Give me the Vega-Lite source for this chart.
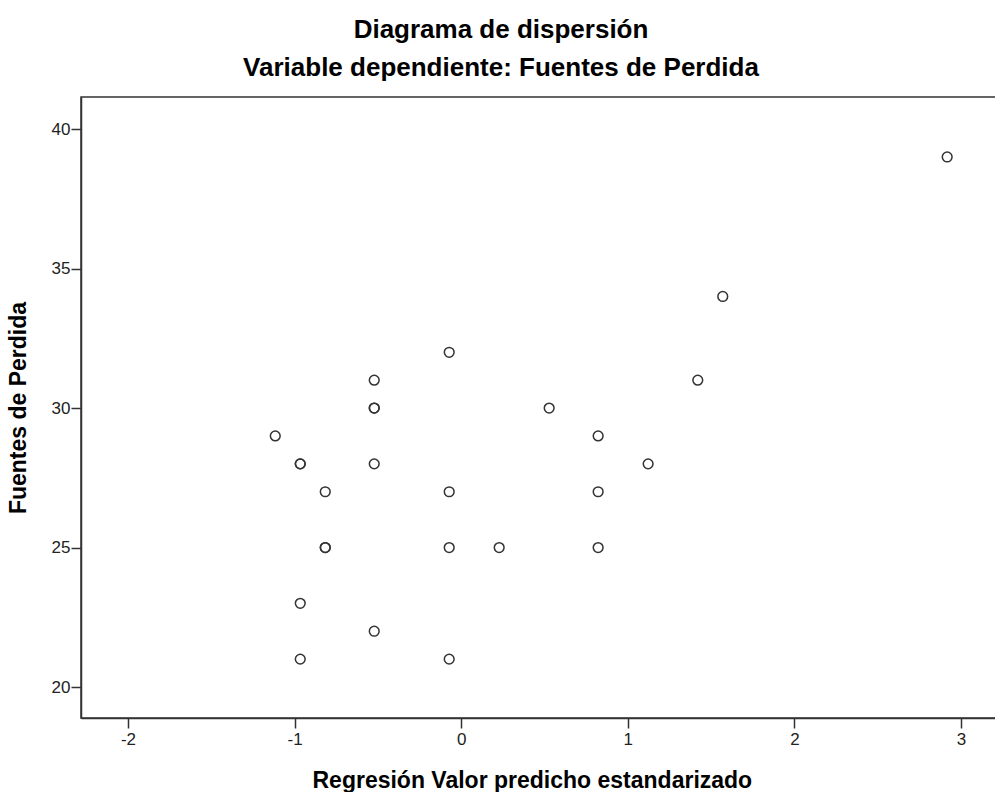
{
  "$schema": "https://vega.github.io/schema/vega-lite/v6.json",
  "autosize": "none",
  "width": 916,
  "height": 621,
  "padding": {"left": 81, "top": 97, "right": 0, "bottom": 74},
  "background": "white",
  "config": {
    "font": "Liberation Sans",
    "view": {"stroke": "#333333", "strokeWidth": 1.5},
    "axis": {"grid": false, "domainColor": "#333333", "domainWidth": 1.5, "tickColor": "#333333", "tickWidth": 1.5, "tickSize": 10, "labelFont": "Liberation Sans", "labelFontSize": 17, "labelColor": "#222222", "titleFont": "Liberation Sans", "titleFontSize": 23, "titleFontWeight": "bold", "titleColor": "#000000"}
  },
  "title": {
    "text": "Diagrama de dispersión",
    "subtitle": "Variable dependiente: Fuentes de Perdida",
    "anchor": "middle",
    "font": "Liberation Sans",
    "fontSize": 26,
    "fontWeight": "bold",
    "color": "#000000",
    "subtitleFont": "Liberation Sans",
    "subtitleFontSize": 26,
    "subtitleFontWeight": "bold",
    "subtitleColor": "#000000",
    "subtitlePadding": 12,
    "offset": 16,
    "dx": -38
  },
  "data": {
    "values": [
      {"pred": -1.116, "fuentes": 29},
      {"pred": -0.966, "fuentes": 28},
      {"pred": -0.966, "fuentes": 28},
      {"pred": -0.816, "fuentes": 27},
      {"pred": -0.816, "fuentes": 25},
      {"pred": -0.816, "fuentes": 25},
      {"pred": -0.966, "fuentes": 23},
      {"pred": -0.966, "fuentes": 21},
      {"pred": -0.522, "fuentes": 31},
      {"pred": -0.522, "fuentes": 30},
      {"pred": -0.522, "fuentes": 30},
      {"pred": -0.522, "fuentes": 28},
      {"pred": -0.522, "fuentes": 22},
      {"pred": -0.072, "fuentes": 32},
      {"pred": -0.072, "fuentes": 27},
      {"pred": -0.072, "fuentes": 25},
      {"pred": -0.072, "fuentes": 21},
      {"pred": 0.228, "fuentes": 25},
      {"pred": 0.528, "fuentes": 30},
      {"pred": 0.822, "fuentes": 29},
      {"pred": 0.822, "fuentes": 27},
      {"pred": 0.822, "fuentes": 25},
      {"pred": 1.122, "fuentes": 28},
      {"pred": 1.42, "fuentes": 31},
      {"pred": 1.57, "fuentes": 34},
      {"pred": 2.917, "fuentes": 39}
    ]
  },
  "mark": {"type": "point", "shape": "circle", "filled": false, "stroke": "#333333", "strokeWidth": 1.5, "size": 95, "opacity": 1},
  "encoding": {
    "x": {
      "field": "pred", "type": "quantitative",
      "scale": {"domain": [-2.282, 3.216], "nice": false, "zero": false},
      "axis": {"values": [-2, -1, 0, 1, 2, 3], "labelExpr": "replace(datum.label, '−', '-')", "title": "Regresión Valor predicho estandarizado", "labelPadding": 3, "titleX": 231, "titleY": 69, "titleBaseline": "alphabetic", "titleAlign": "left"}
    },
    "y": {
      "field": "fuentes", "type": "quantitative",
      "scale": {"domain": [18.89, 41.15], "nice": false, "zero": false},
      "axis": {"values": [20, 25, 30, 35, 40], "title": "Fuentes de Perdida", "labelPadding": 1, "titleX": -63, "titleBaseline": "middle", "titleAlign": "center"}
    }
  }
}
